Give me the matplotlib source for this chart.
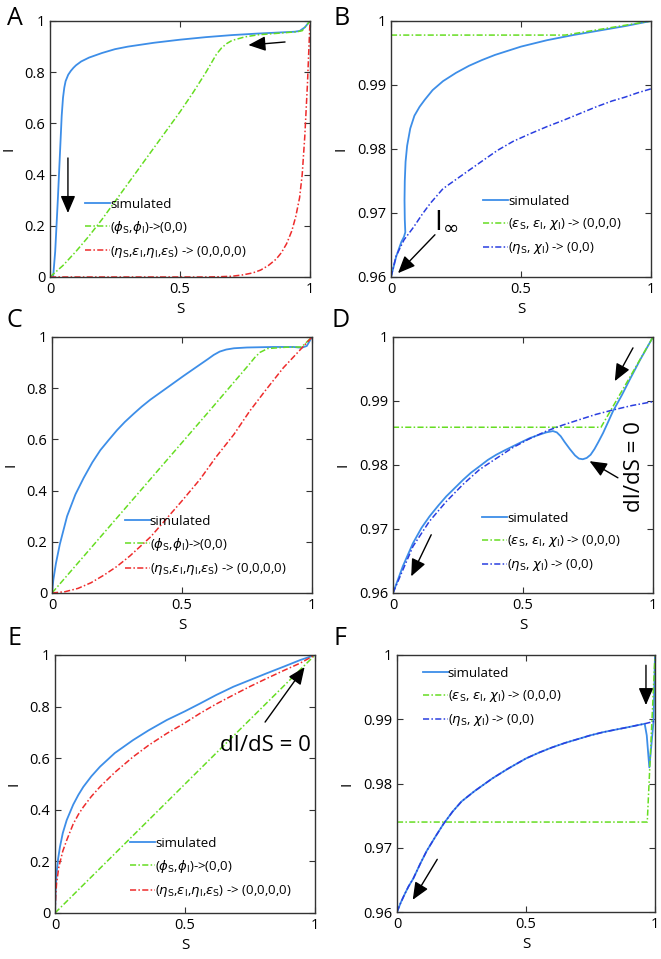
import numpy as np
import matplotlib
matplotlib.use("Agg")
import matplotlib.pyplot as plt
from matplotlib.ticker import FuncFormatter

plt.rcParams['font.family'] = ['Open Sans', 'DejaVu Sans']
plt.rcParams['mathtext.fontset'] = 'dejavusans'

# ---- colores
c_sim = '#3d8ee8'
c_green = '#66dd22'
c_red = '#ee2b2b'
c_eta = '#2a3ee0'
dashdot = (0, (4, 1.5, 1, 1.5))

# ---- etiquetas
lab_sim = 'simulated'
lab_phi = r'($\phi_{\rm S}$,$\phi_{\rm I}$)->(0,0)'
lab_eta4 = r'($\eta_{\rm S}$,$\epsilon_{\rm I}$,$\eta_{\rm I}$,$\epsilon_{\rm S}$) -> (0,0,0,0)'
lab_eps3 = r'($\epsilon_{\rm S}$, $\epsilon_{\rm I}$, $\chi_{\rm I}$) -> (0,0,0)'
lab_eta2 = r'($\eta_{\rm S}$, $\chi_{\rm I}$) -> (0,0)'

# ---- Panel A
a_sim_S = [0, 0.012, 0.02, 0.03, 0.04, 0.045, 0.05, 0.055, 0.06, 0.07, 0.08, 0.09, 0.1, 0.12, 0.15, 0.2, 0.25,
           0.3, 0.4, 0.5, 0.6, 0.7, 0.8, 0.9, 0.94, 0.96, 0.98, 1.0]
a_sim_I = [0, 0.0, 0.1, 0.3, 0.52, 0.63, 0.7, 0.74, 0.765, 0.79, 0.805, 0.817, 0.827, 0.842, 0.857, 0.875, 0.89,
           0.9, 0.915, 0.927, 0.937, 0.945, 0.951, 0.956, 0.958, 0.961, 0.975, 1.0]
a_phi_S = [0, 0.05, 0.1, 0.15, 0.2, 0.3, 0.4, 0.5, 0.55, 0.6, 0.62, 0.64, 0.66, 0.68, 0.7, 0.75, 0.8, 0.9,
           0.95, 0.97, 1.0]
a_phi_I = [0, 0.045, 0.1, 0.16, 0.225, 0.365, 0.505, 0.645, 0.72, 0.8, 0.835, 0.87, 0.895, 0.912, 0.924, 0.938,
           0.946, 0.954, 0.958, 0.962, 1.0]
a_eta_S = [0, 0.6, 0.65, 0.7, 0.74, 0.78, 0.81, 0.84, 0.87, 0.89, 0.91, 0.93, 0.945, 0.96, 0.97, 0.98, 0.99, 1.0]
a_eta_I = [0, 0.0, 0.001, 0.003, 0.008, 0.016, 0.027, 0.045, 0.07, 0.095, 0.13, 0.18, 0.235, 0.31, 0.4, 0.55,
           0.75, 1.0]

# ---- Panel B
b_sim_S = [0, 0.02, 0.04, 0.05, 0.055, 0.053, 0.052, 0.053, 0.056, 0.062, 0.074, 0.09, 0.11, 0.13, 0.16, 0.2,
           0.25, 0.3, 0.35, 0.4, 0.5, 0.6, 0.7, 0.8, 0.9, 1.0]
b_sim_I = [0.96, 0.9632, 0.9655, 0.9663, 0.967, 0.969, 0.972, 0.975, 0.978, 0.9805, 0.9832, 0.9852, 0.9866,
           0.9877, 0.9892, 0.9906, 0.9919, 0.993, 0.9939, 0.9947, 0.996, 0.997, 0.9978, 0.9985, 0.9992, 1.0]
b_eps_S = [0, 0.67, 1.0]
b_eps_I = [0.9978, 0.9978, 1.0]
b_eta_S = [0, 0.02, 0.05, 0.087, 0.12, 0.151, 0.2, 0.28, 0.35, 0.41, 0.47, 0.536, 0.6, 0.664, 0.73, 0.79,
           0.85, 0.9, 0.95, 1.0]
b_eta_I = [0.96, 0.9633, 0.9658, 0.9678, 0.9698, 0.9715, 0.9738, 0.9761, 0.9781, 0.9798, 0.9812, 0.9824,
           0.9835, 0.9845, 0.9856, 0.9866, 0.9875, 0.9881, 0.9888, 0.9894]

# ---- Panel C
c_sim_S = [0, 0.005, 0.015, 0.03, 0.058, 0.09, 0.122, 0.155, 0.186, 0.22, 0.25, 0.28, 0.314, 0.345, 0.378,
           0.44, 0.506, 0.57, 0.6, 0.622, 0.645, 0.67, 0.7, 0.75, 0.85, 0.93, 0.96, 0.98, 1.0]
c_sim_I = [0, 0.05, 0.115, 0.19, 0.3, 0.385, 0.45, 0.51, 0.558, 0.6, 0.636, 0.668, 0.7, 0.728, 0.755,
           0.8, 0.848, 0.893, 0.914, 0.93, 0.943, 0.951, 0.956, 0.959, 0.961, 0.961, 0.958, 0.965, 1.0]
c_phi_S = [0, 0.2, 0.4, 0.6, 0.76, 0.78, 0.8, 0.83, 0.9, 0.96, 1.0]
c_phi_I = [0, 0.235, 0.47, 0.705, 0.895, 0.92, 0.94, 0.955, 0.96, 0.961, 1.0]
c_eta_S = [0, 0.05, 0.1, 0.15, 0.2, 0.25, 0.3, 0.38, 0.44, 0.5, 0.57, 0.63, 0.7, 0.76, 0.82, 0.89, 0.95, 1.0]
c_eta_I = [0, 0.005, 0.018, 0.04, 0.07, 0.104, 0.145, 0.22, 0.29, 0.36, 0.445, 0.53, 0.62, 0.71, 0.79, 0.88,
           0.945, 1.0]

# ---- Panel D
d_sim_S = [0, 0.02, 0.038, 0.077, 0.11, 0.141, 0.175, 0.205, 0.24, 0.27, 0.3, 0.333, 0.365, 0.397, 0.43,
           0.46, 0.49, 0.526, 0.56, 0.59, 0.615, 0.63, 0.645, 0.66, 0.68, 0.7, 0.715, 0.73, 0.745, 0.76,
           0.775, 0.79, 0.808, 0.826, 0.846, 0.88, 0.91, 0.95, 1.0]
d_sim_I = [0.96, 0.9622, 0.9642, 0.9678, 0.9702, 0.972, 0.9737, 0.9751, 0.9765, 0.9777, 0.9788, 0.9798,
           0.9808, 0.9816, 0.9823, 0.9829, 0.9835, 0.9842, 0.9847, 0.9851, 0.9853, 0.9851, 0.9845, 0.9836,
           0.9825, 0.9815, 0.981, 0.9809, 0.9811, 0.9816, 0.9825, 0.9836, 0.985, 0.9866, 0.9884, 0.9909,
           0.9933, 0.9964, 1.0]
d_eps_S = [0, 0.8, 1.0]
d_eps_I = [0.9859, 0.9859, 1.0]
d_eta_S = [0, 0.04, 0.077, 0.14, 0.205, 0.27, 0.333, 0.4, 0.46, 0.52, 0.59, 0.65, 0.718, 0.78, 0.846,
           0.92, 1.0]
d_eta_I = [0.96, 0.9638, 0.9673, 0.9712, 0.9743, 0.977, 0.9793, 0.9811, 0.9827, 0.984, 0.9853, 0.9862,
           0.9871, 0.9879, 0.9886, 0.9893, 0.9899]

# ---- Panel E
e_sim_S = [0, 0.003, 0.006, 0.012, 0.019, 0.03, 0.045, 0.07, 0.09, 0.109, 0.14, 0.173, 0.23, 0.3, 0.36,
           0.43, 0.5, 0.558, 0.62, 0.686, 0.75, 0.814, 0.88, 0.942, 1.0]
e_sim_I = [0, 0.1, 0.153, 0.21, 0.256, 0.31, 0.36, 0.42, 0.458, 0.489, 0.53, 0.567, 0.62, 0.67, 0.708,
           0.748, 0.782, 0.812, 0.845, 0.877, 0.903, 0.929, 0.955, 0.98, 1.0]
e_phi_S = [0, 1.0]
e_phi_I = [0, 1.0]
e_eta_S = [0, 0.003, 0.006, 0.015, 0.03, 0.045, 0.07, 0.09, 0.109, 0.14, 0.173, 0.23, 0.3, 0.36, 0.43,
           0.5, 0.558, 0.62, 0.686, 0.75, 0.814, 0.88, 0.942, 1.0]
e_eta_I = [0, 0.07, 0.114, 0.18, 0.24, 0.282, 0.345, 0.382, 0.411, 0.452, 0.489, 0.545, 0.605, 0.65,
           0.696, 0.737, 0.774, 0.81, 0.845, 0.878, 0.909, 0.94, 0.968, 1.0]

# ---- Panel F
f_eta_S = [0, 0.015, 0.03, 0.045, 0.063, 0.09, 0.115, 0.15, 0.18, 0.215, 0.25, 0.3, 0.37, 0.43, 0.5,
           0.55, 0.6, 0.65, 0.7, 0.75, 0.8, 0.85, 0.9, 0.96, 1.0]
f_eta_I = [0.96, 0.9615, 0.9628, 0.964, 0.9652, 0.9675, 0.9695, 0.9718, 0.9737, 0.9756, 0.9772, 0.9788,
           0.9808, 0.9823, 0.9839, 0.9848, 0.9856, 0.9863, 0.9869, 0.9875, 0.988, 0.9884, 0.9888, 0.9893,
           0.9897]
f_sim_S = f_eta_S[:-1] + [0.968, 0.978, 0.986, 0.994, 1.0]
f_sim_I = f_eta_I[:-1] + [0.9875, 0.9825, 0.986, 0.9895, 1.0]
f_eps_S = [0, 0.97, 1.0]
f_eps_I = [0.974, 0.974, 1.0]

W, H = 661, 959
fig = plt.figure(figsize=(W / 100, H / 100), dpi=100)

def px_axes(x0, y0, x1, y1):
    return fig.add_axes([x0 / W, 1 - y1 / H, (x1 - x0) / W, (y1 - y0) / H])

fmt = FuncFormatter(lambda v, p: '%g' % round(v, 4))

def style(ax, ylim, yticks):
    ax.set_xlim(0, 1)
    ax.set_ylim(*ylim)
    ax.set_xticks([0, 0.5, 1])
    ax.set_yticks(yticks)
    ax.xaxis.set_major_formatter(fmt)
    ax.yaxis.set_major_formatter(fmt)
    ax.tick_params(direction='in', top=True, right=True, length=4, width=0.8,
                   labelsize=10.5, color='#333333')
    for s in ax.spines.values():
        s.set_linewidth(1.0)
        s.set_color('#333333')
    ax.set_xlabel('S', fontsize=11, labelpad=4)
    ax.set_ylabel('I', fontsize=11, labelpad=6)

def arrow(ax, tail, head):
    ax.annotate('', xy=head, xytext=tail,
                arrowprops=dict(arrowstyle='-|>,head_length=0.7,head_width=0.3',
                                mutation_scale=15, lw=1.0, color='k',
                                shrinkA=0, shrinkB=0))

def leg(ax, anchor):
    ax.legend(loc='upper left', bbox_to_anchor=anchor, frameon=False, fontsize=9.5,
              borderaxespad=0, borderpad=0, handlelength=1.9, handletextpad=0,
              labelspacing=0.62)

ylim_full, yt_full = (0, 1), [0, 0.2, 0.4, 0.6, 0.8, 1]
ylim_zoom, yt_zoom = (0.96, 1), [0.96, 0.97, 0.98, 0.99, 1]

# A
ax = px_axes(50, 21, 310, 277)
ax.plot(a_sim_S, a_sim_I, color=c_sim, lw=1.3, label=lab_sim)
ax.plot(a_phi_S, a_phi_I, color=c_green, lw=1.1, ls=dashdot, label=lab_phi)
ax.plot(a_eta_S, a_eta_I, color=c_red, lw=1.1, ls=dashdot, label=lab_eta4)
style(ax, ylim_full, yt_full)
leg(ax, (0.135, 0.31))
arrow(ax, (0.069, 0.465), (0.069, 0.25))
arrow(ax, (0.904, 0.918), (0.763, 0.906))

# B
ax = px_axes(391, 21, 651, 277)
ax.plot(b_sim_S, b_sim_I, color=c_sim, lw=1.3, label=lab_sim)
ax.plot(b_eps_S, b_eps_I, color=c_green, lw=1.1, ls=dashdot, label=lab_eps3)
ax.plot(b_eta_S, b_eta_I, color=c_eta, lw=1.1, ls=dashdot, label=lab_eta2)
style(ax, ylim_zoom, yt_zoom)
leg(ax, (0.354, 0.32))
arrow(ax, (0.169, 0.9666), (0.027, 0.9606))
ax.text(0.165, 0.9677, r'I$_{\infty}$', fontsize=20, ha='left', va='baseline')

# C
ax = px_axes(52, 337, 312, 593)
ax.plot(c_sim_S, c_sim_I, color=c_sim, lw=1.3, label=lab_sim)
ax.plot(c_phi_S, c_phi_I, color=c_green, lw=1.1, ls=dashdot, label=lab_phi)
ax.plot(c_eta_S, c_eta_I, color=c_red, lw=1.1, ls=dashdot, label=lab_eta4)
style(ax, ylim_full, yt_full)
leg(ax, (0.28, 0.305))

# D
ax = px_axes(393, 337, 653, 593)
ax.plot(d_sim_S, d_sim_I, color=c_sim, lw=1.3, label=lab_sim)
ax.plot(d_eps_S, d_eps_I, color=c_green, lw=1.1, ls=dashdot, label=lab_eps3)
ax.plot(d_eta_S, d_eta_I, color=c_eta, lw=1.1, ls=dashdot, label=lab_eta2)
style(ax, ylim_zoom, yt_zoom)
leg(ax, (0.342, 0.316))
arrow(ax, (0.923, 0.9983), (0.853, 0.9931))
arrow(ax, (0.865, 0.978), (0.756, 0.9806))
arrow(ax, (0.147, 0.9691), (0.07, 0.9626))
ax.text(0.93, 0.9798, 'dI/dS = 0', fontsize=16, rotation=90, ha='center', va='center')

# E
ax = px_axes(55, 655, 315, 913)
ax.plot(e_sim_S, e_sim_I, color=c_sim, lw=1.3, label=lab_sim)
ax.plot(e_phi_S, e_phi_I, color=c_green, lw=1.1, ls=dashdot, label=lab_phi)
ax.plot(e_eta_S, e_eta_I, color=c_red, lw=1.1, ls=dashdot, label=lab_eta4)
style(ax, ylim_full, yt_full)
leg(ax, (0.288, 0.295))
arrow(ax, (0.808, 0.74), (0.96, 0.953))
ax.text(0.808, 0.651, 'dI/dS = 0', fontsize=16, ha='center', va='center')

# F
ax = px_axes(397, 655, 655, 912)
ax.plot(f_sim_S, f_sim_I, color=c_sim, lw=1.3, label=lab_sim)
ax.plot(f_eps_S, f_eps_I, color=c_green, lw=1.1, ls=dashdot, label=lab_eps3)
ax.plot(f_eta_S, f_eta_I, color=c_eta, lw=1.1, ls=dashdot, label=lab_eta2)
style(ax, ylim_zoom, yt_zoom)
leg(ax, (0.1, 0.953))
arrow(ax, (0.965, 0.9984), (0.965, 0.9922))
arrow(ax, (0.156, 0.9682), (0.061, 0.9619))

# letras de panel
for letter, x, y in [('A', 7, 25), ('B', 333, 25), ('C', 7, 327),
                     ('D', 332, 327), ('E', 7, 645), ('F', 333, 645)]:
    fig.text(x / W, 1 - y / H, letter, fontsize=18, va='baseline', ha='left')

fig.savefig('out.png', dpi=100)
